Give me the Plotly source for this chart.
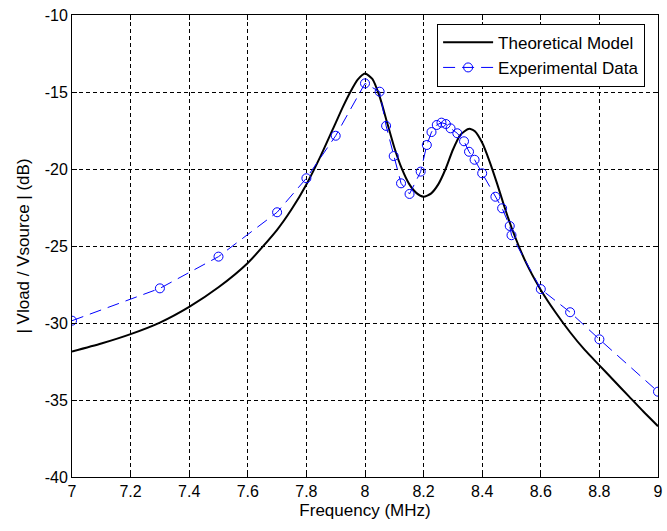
import plotly.graph_objects as go

# Theoretical model
model_f = [7.0, 7.1, 7.2, 7.3, 7.4, 7.5, 7.6, 7.7, 7.75, 7.8, 7.85, 7.9, 7.925, 7.95, 7.975,
           8.0, 8.025, 8.05, 8.075, 8.1, 8.125, 8.15, 8.175, 8.2, 8.225, 8.25, 8.275, 8.3,
           8.325, 8.35, 8.36, 8.375, 8.4, 8.425, 8.45, 8.475, 8.5, 8.55, 8.6, 8.65, 8.7,
           8.75, 8.8, 8.85, 8.9, 8.95, 9.0]
model_db = [-31.85, -31.33, -30.72, -29.97, -28.95, -27.68, -26.1, -23.95, -22.6, -21.0,
            -19.1, -17.0, -15.95, -15.0, -14.2, -13.8, -14.15, -15.3, -16.95, -18.6, -19.95,
            -20.95, -21.55, -21.8, -21.6, -21.0, -20.0, -18.75, -17.8, -17.42, -17.4, -17.55,
            -18.3, -19.5, -20.9, -22.4, -23.8, -26.1, -27.85, -29.3, -30.6, -31.75, -32.75,
            -33.75, -34.75, -35.75, -36.7]

exp_f = [7.0, 7.3, 7.5, 7.7, 7.8, 7.9, 8.0, 8.05, 8.072, 8.098, 8.123, 8.152, 8.19, 8.211,
         8.227, 8.245, 8.261, 8.276, 8.292, 8.315, 8.338, 8.355, 8.374, 8.4, 8.445, 8.468,
         8.494, 8.5, 8.6, 8.7, 8.8, 9.0]
exp_db = [-29.85, -27.75, -25.69, -22.81, -20.6, -17.84, -14.44, -14.98, -17.2, -19.16,
          -20.93, -21.62, -20.17, -18.44, -17.6, -17.14, -16.99, -17.08, -17.36, -17.68,
          -18.2, -18.88, -19.4, -20.28, -21.8, -22.55, -23.7, -24.3, -27.8, -29.3, -31.06,
          -34.46]

x_ticks = [7, 7.2, 7.4, 7.6, 7.8, 8, 8.2, 8.4, 8.6, 8.8, 9]
y_ticks = [-40, -35, -30, -25, -20, -15, -10]

FONT = "Liberation Sans, Arial"

fig = go.Figure()
fig.add_trace(go.Scatter(x=model_f, y=model_db, mode="lines", name="Theoretical Model",
                         line=dict(color="black", width=2, shape="spline", smoothing=0.6)))
fig.add_trace(go.Scatter(x=exp_f, y=exp_db, mode="lines+markers", name="Experimental Data",
                         line=dict(color="#0000ff", width=1, dash="12px,7px"),
                         marker=dict(symbol="circle-open", size=9, color="#0000ff",
                                     line=dict(width=1, color="#0000ff"))))

axis_common = dict(showline=True, linecolor="black", linewidth=1, mirror="ticks",
                   ticks="inside", ticklen=5, tickcolor="black",
                   showgrid=True, gridcolor="black", gridwidth=1, griddash="4px,3px",
                   zeroline=False, tickfont=dict(family=FONT, size=16, color="black"),
                   title_font=dict(family=FONT, size=17, color="black"),
                   ticklabeloverflow="allow")

fig.update_xaxes(range=[7, 9], tickvals=x_ticks, ticktext=[str(v) for v in x_ticks],
                 title_text="Frequency (MHz)", title_standoff=4, **axis_common)
fig.update_yaxes(range=[-40, -10], tickvals=y_ticks, ticktext=[str(v) for v in y_ticks],
                 title_text="| Vload / Vsource | (dB)", title_standoff=10, **axis_common)

fig.update_layout(
    width=667, height=531,
    margin=dict(l=72, r=4, t=15, b=54),
    paper_bgcolor="white", plot_bgcolor="white",
    font=dict(family=FONT, size=16, color="black"),
    legend=dict(x=0.978, y=0.981, xanchor="right", yanchor="top",
                bgcolor="white", bordercolor="black", borderwidth=1,
                font=dict(size=17), itemwidth=50),
)

fig.write_html("out.html")
